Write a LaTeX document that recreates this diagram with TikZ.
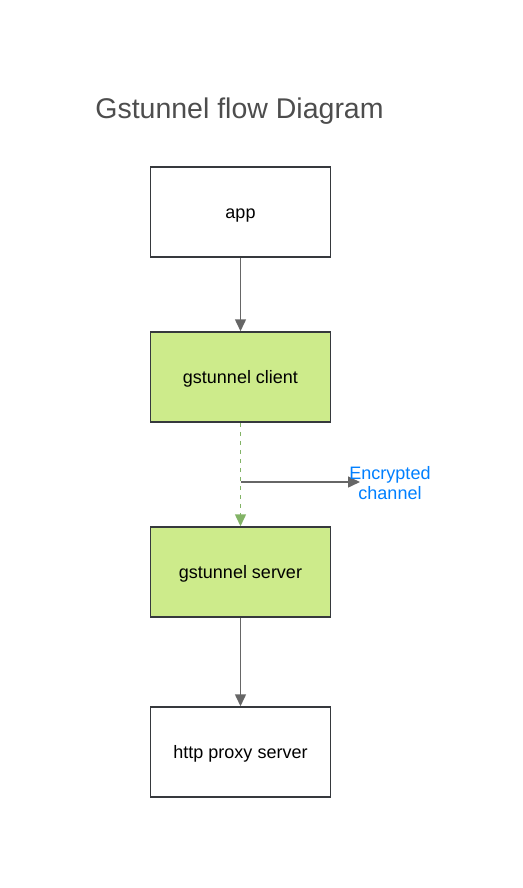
\documentclass[tikz,border=0pt]{standalone}
\usepackage{fontspec}
\setmainfont{Liberation Sans}
\usetikzlibrary{arrows.meta}
\definecolor{boxgreen}{HTML}{CDEB8B}
\definecolor{boxline}{HTML}{36393D}
\definecolor{arrgray}{HTML}{666666}
\definecolor{dashgreen}{HTML}{82B366}
\definecolor{labelblue}{HTML}{007FFF}
\definecolor{titlegray}{HTML}{4D4D4D}
\begin{document}
\begin{tikzpicture}[x=1pt,y=-1pt,
  box/.style={draw=boxline, line width=1.5pt, minimum width=180pt, minimum height=90pt, inner sep=0pt, text height=17pt, text depth=4pt, font=\fontsize{18}{21}\selectfont},
  greenbox/.style={box, fill=boxgreen},
  arr/.style={color=arrgray, line width=1.5pt, -{Triangle[length=12pt,width=11pt]}},
]
\useasboundingbox (0,0) rectangle (522,888);
\node[text=titlegray, font=\fontsize{28.5}{32}\selectfont, anchor=center] (title) at (239.5,111) {Gstunnel flow Diagram};
\node[box] (app) at (240.5,212) {app};
\node[greenbox] (client) at (240.5,377) {gstunnel client};
\node[greenbox] (server) at (240.5,572) {gstunnel server};
\node[box] (proxy) at (240.5,752) {http proxy server};
\draw[arr] (app) -- (client);
\draw[color=dashgreen, line width=1.5pt, dash pattern=on 4.5pt off 4.5pt, -{Triangle[length=12pt,width=11pt]}] (client) -- (server);
\coordinate (split) at (240.5,482);
\coordinate (chanend) at (360,482);
\draw[arr] (split) -- (chanend);
\node[text=labelblue, font=\fontsize{18}{20}\selectfont, align=center, anchor=center] (lbl) at (390,483) {Encrypted\\channel};
\draw[arr] (server) -- (proxy);
\end{tikzpicture}
\end{document}
